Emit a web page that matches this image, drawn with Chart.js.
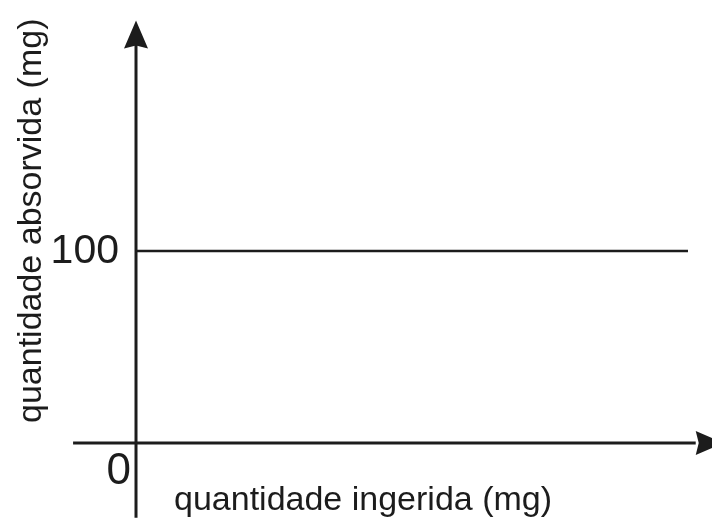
<!DOCTYPE html>
<html lang="pt">
<head>
<meta charset="UTF-8">
<title>Quantidade absorvida x ingerida</title>
<style>
    html, body { margin: 0; padding: 0; background: #fff; }
    #wrap { width: 712px; height: 519px; }
</style>
</head>
<body>
<div id="wrap"><canvas id="chart" width="712" height="519"></canvas></div>
<script src="https://cdn.jsdelivr.net/npm/chart.js@4/dist/chart.umd.min.js"></script>
<script>
    // dados
    const ingerida = [0, 100];
    const absorvida = [100, 100];
    const yTicks = [0, 100];
    const xTitle = 'quantidade ingerida (mg)';
    const yTitle = 'quantidade absorvida (mg)';

    const ink = '#1c1c1c';
    const font = '"Liberation Sans", Arial, sans-serif';

    // eixos com setas, rótulos e títulos
    const eixos = {
        id: 'eixos',
        afterDatasetsDraw(chart) {
            const { ctx, scales: { x, y } } = chart;
            const x0 = x.getPixelForValue(0);
            const y0 = y.getPixelForValue(0);
            const top = y.getPixelForValue(220);
            const bottom = y.getPixelForValue(-39);
            const left = x.getPixelForValue(-11.4);
            const right = x.getPixelForValue(104.3);

            ctx.save();
            ctx.strokeStyle = ink;
            ctx.fillStyle = ink;
            ctx.lineWidth = 3;

            // eixo y
            ctx.beginPath();
            ctx.moveTo(x0, bottom);
            ctx.lineTo(x0, top + 20);
            ctx.stroke();
            ctx.beginPath();
            ctx.moveTo(x0, top);
            ctx.lineTo(x0 - 12, top + 28);
            ctx.lineTo(x0, top + 25);
            ctx.lineTo(x0 + 12, top + 28);
            ctx.closePath();
            ctx.fill();

            // eixo x
            ctx.beginPath();
            ctx.moveTo(left, y0);
            ctx.lineTo(right - 16, y0);
            ctx.stroke();
            ctx.beginPath();
            ctx.moveTo(right + 12, y0);
            ctx.lineTo(right - 16, y0 - 12);
            ctx.lineTo(right - 13, y0);
            ctx.lineTo(right - 16, y0 + 12);
            ctx.closePath();
            ctx.fill();

            // rótulos
            ctx.textAlign = 'right';
            ctx.textBaseline = 'middle';
            yTicks.forEach(v => {
                const py = y.getPixelForValue(v);
                if (v === 0) {
                    ctx.font = '44px ' + font;
                    ctx.fillText(String(v), x0 - 5, py + 29);
                } else {
                    ctx.font = '41px ' + font;
                    ctx.fillText(String(v), x0 - 17, py + 1);
                }
            });

            // títulos
            ctx.font = '34px ' + font;
            ctx.textAlign = 'left';
            ctx.textBaseline = 'alphabetic';
            ctx.fillText(xTitle, 174, 510);

            ctx.save();
            ctx.translate(41, 423);
            ctx.rotate(-Math.PI / 2);
            ctx.fillText(yTitle, 0, 0);
            ctx.restore();

            ctx.restore();
        }
    };

    new Chart(document.getElementById('chart'), {
        type: 'line',
        data: {
            datasets: [{
                data: ingerida.map((v, i) => ({ x: v, y: absorvida[i] })),
                borderColor: ink,
                borderWidth: 2.5,
                pointRadius: 0,
                fill: false
            }]
        },
        options: {
            responsive: false,
            animation: false,
            layout: { padding: 0 },
            plugins: { legend: { display: false }, tooltip: { enabled: false } },
            scales: {
                x: { type: 'linear', display: false, min: -24.64, max: 104.35 },
                y: { type: 'linear', display: false, min: -39.6, max: 230.7 }
            }
        },
        plugins: [eixos]
    });
</script>
</body>
</html>
